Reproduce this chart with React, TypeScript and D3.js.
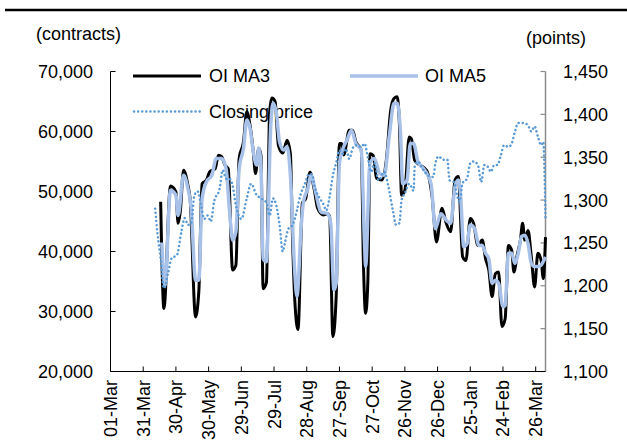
import React from 'react';
import * as d3 from 'd3';

// axis ticks
const xTickDates = ['2014-03-01', '2014-03-31', '2014-04-30', '2014-05-30', '2014-06-29', '2014-07-29', '2014-08-28',
    '2014-09-27', '2014-10-27', '2014-11-26', '2014-12-26', '2015-01-25', '2015-02-24', '2015-03-26'];
const leftTicks = [20000, 30000, 40000, 50000, 60000, 70000];
const rightTicks = [1100, 1150, 1200, 1250, 1300, 1350, 1400, 1450];

// OI MA3 (contracts)
const ma3Dates = ['2014-04-16', '2014-04-19', '2014-04-25', '2014-04-30', '2014-05-02', '2014-05-04', '2014-05-07',
    '2014-05-11', '2014-05-13', '2014-05-18', '2014-05-21', '2014-05-24', '2014-05-28', '2014-05-31', '2014-06-05',
    '2014-06-08', '2014-06-11', '2014-06-14', '2014-06-17', '2014-06-21', '2014-06-24', '2014-06-27', '2014-07-01',
    '2014-07-04', '2014-07-07', '2014-07-10', '2014-07-12', '2014-07-15', '2014-07-17', '2014-07-19', '2014-07-22',
    '2014-07-25', '2014-07-27', '2014-07-30', '2014-08-02', '2014-08-06', '2014-08-10', '2014-08-13', '2014-08-15',
    '2014-08-17', '2014-08-20', '2014-08-24', '2014-08-27', '2014-08-31', '2014-09-04', '2014-09-07', '2014-09-12',
    '2014-09-16', '2014-09-18', '2014-09-21', '2014-09-24', '2014-09-27', '2014-09-29', '2014-10-01', '2014-10-06',
    '2014-10-09', '2014-10-12', '2014-10-17', '2014-10-19', '2014-10-21', '2014-10-23', '2014-10-25', '2014-10-28',
    '2014-10-31', '2014-11-05', '2014-11-09', '2014-11-13', '2014-11-16', '2014-11-19', '2014-11-21', '2014-11-23',
    '2014-11-26', '2014-11-30', '2014-12-02', '2014-12-05', '2014-12-10', '2014-12-16', '2014-12-21', '2014-12-25',
    '2014-12-30', '2015-01-03', '2015-01-07', '2015-01-11', '2015-01-14', '2015-01-18', '2015-01-21', '2015-01-25',
    '2015-01-28', '2015-02-01', '2015-02-05', '2015-02-08', '2015-02-11', '2015-02-14', '2015-02-17', '2015-02-20',
    '2015-02-23', '2015-02-26', '2015-03-01', '2015-03-04', '2015-03-06', '2015-03-09', '2015-03-12', '2015-03-14',
    '2015-03-16', '2015-03-19', '2015-03-22', '2015-03-25', '2015-03-28', '2015-03-31', '2015-04-02', '2015-04-04'];
const ma3Values = [48300, 30500, 50900, 49950, 44700, 46600, 53550,
    51050, 48800, 29100, 33300, 51300, 51900, 53300, 53800,
    56050, 55800, 54400, 53800, 36900, 37700, 55500, 58300,
    63300, 61000, 56600, 53000, 57200, 56000, 33800, 34800,
    63300, 65600, 65000, 57700, 56400, 58550, 56300, 42000,
    32000, 27000, 48100, 48800, 53200, 50200, 47200, 46100,
    46300, 45800, 25800, 32500, 58000, 58000, 56100, 60200,
    60200, 58300, 56900, 38000, 29700, 34700, 56300, 56000,
    52200, 51900, 55200, 63500, 65500, 65800, 61300, 49400,
    50200, 59100, 58800, 55200, 54400, 53500, 49100, 41600,
    47200, 44700, 43300, 51900, 52500, 39100, 38500, 45500,
    44700, 41000, 41900, 38800, 36900, 32500, 36300, 36600,
    27500, 28800, 41000, 40200, 36600, 39400, 41900, 44700,
    41900, 43500, 39100, 34100, 39700, 38500, 35500, 42400];

// OI MA5 (contracts)
const ma5Dates = ['2014-04-17', '2014-04-20', '2014-04-25', '2014-04-30', '2014-05-02', '2014-05-07', '2014-05-11',
    '2014-05-14', '2014-05-18', '2014-05-21', '2014-05-24', '2014-05-28', '2014-06-02', '2014-06-06', '2014-06-11',
    '2014-06-15', '2014-06-18', '2014-06-21', '2014-06-24', '2014-06-27', '2014-07-01', '2014-07-04', '2014-07-07',
    '2014-07-10', '2014-07-13', '2014-07-15', '2014-07-17', '2014-07-19', '2014-07-22', '2014-07-26', '2014-07-28',
    '2014-07-31', '2014-08-03', '2014-08-07', '2014-08-10', '2014-08-13', '2014-08-17', '2014-08-19', '2014-08-23',
    '2014-08-25', '2014-08-29', '2014-09-01', '2014-09-05', '2014-09-10', '2014-09-16', '2014-09-19', '2014-09-22',
    '2014-09-24', '2014-09-27', '2014-10-01', '2014-10-04', '2014-10-08', '2014-10-12', '2014-10-17', '2014-10-20',
    '2014-10-21', '2014-10-25', '2014-10-29', '2014-11-03', '2014-11-07', '2014-11-12', '2014-11-16', '2014-11-19',
    '2014-11-22', '2014-11-24', '2014-11-28', '2014-12-01', '2014-12-04', '2014-12-08', '2014-12-14', '2014-12-20',
    '2014-12-24', '2014-12-29', '2015-01-03', '2015-01-07', '2015-01-11', '2015-01-14', '2015-01-16', '2015-01-19',
    '2015-01-22', '2015-01-25', '2015-01-29', '2015-02-02', '2015-02-05', '2015-02-08', '2015-02-11', '2015-02-14',
    '2015-02-17', '2015-02-20', '2015-02-24', '2015-02-26', '2015-03-01', '2015-03-04', '2015-03-07', '2015-03-10',
    '2015-03-13', '2015-03-16', '2015-03-19', '2015-03-22', '2015-03-25', '2015-03-29', '2015-04-01', '2015-04-04'];
const ma5Values = [41500, 34400, 50200, 49400, 46000, 52700, 50500,
    47200, 35200, 35200, 48800, 51600, 52700, 55500, 55500,
    53800, 47200, 41900, 43300, 53800, 57200, 61900, 60500,
    56600, 54400, 57200, 54400, 38800, 38300, 61000, 64700,
    63300, 58300, 56900, 57500, 52700, 36600, 32500, 44400,
    48300, 50500, 52700, 50000, 46600, 46300, 44700, 33600,
    34700, 54700, 57500, 58600, 60200, 58000, 56900, 41300,
    37500, 54700, 55500, 53000, 52700, 59700, 64700, 64700,
    59700, 51300, 51900, 58000, 58000, 55000, 53600, 51300,
    43800, 46300, 45200, 44700, 50800, 51900, 49700, 40800,
    41300, 44400, 43800, 41000, 41000, 39700, 38800, 34700,
    35200, 34700, 30800, 31000, 39700, 39700, 38000, 39700,
    42500, 42700, 41300, 38000, 37500, 37500, 38000, 39100];

// Closing price (points)
const priceDates = ['2014-04-11', '2014-04-13', '2014-04-16', '2014-04-19', '2014-04-23', '2014-04-26', '2014-05-01',
    '2014-05-05', '2014-05-08', '2014-05-11', '2014-05-14', '2014-05-17', '2014-05-20', '2014-05-23', '2014-05-26',
    '2014-05-29', '2014-06-01', '2014-06-04', '2014-06-09', '2014-06-12', '2014-06-15', '2014-06-18', '2014-06-21',
    '2014-06-24', '2014-06-29', '2014-07-04', '2014-07-08', '2014-07-13', '2014-07-17', '2014-07-22', '2014-07-25',
    '2014-07-28', '2014-07-31', '2014-08-03', '2014-08-06', '2014-08-08', '2014-08-11', '2014-08-15', '2014-08-19',
    '2014-08-22', '2014-08-26', '2014-08-30', '2014-09-02', '2014-09-04', '2014-09-08', '2014-09-12', '2014-09-15',
    '2014-09-18', '2014-09-21', '2014-09-24', '2014-09-27', '2014-09-30', '2014-10-03', '2014-10-06', '2014-10-09',
    '2014-10-12', '2014-10-17', '2014-10-20', '2014-10-23', '2014-10-26', '2014-10-29', '2014-11-02', '2014-11-07',
    '2014-11-11', '2014-11-15', '2014-11-18', '2014-11-21', '2014-11-23', '2014-11-26', '2014-11-30', '2014-12-04',
    '2014-12-05', '2014-12-08', '2014-12-13', '2014-12-17', '2014-12-22', '2014-12-24', '2014-12-27', '2014-12-31',
    '2015-01-04', '2015-01-06', '2015-01-10', '2015-01-13', '2015-01-15', '2015-01-18', '2015-01-22', '2015-01-25',
    '2015-01-28', '2015-02-01', '2015-02-04', '2015-02-07', '2015-02-10', '2015-02-13', '2015-02-16', '2015-02-19',
    '2015-02-22', '2015-02-25', '2015-03-01', '2015-03-04', '2015-03-07', '2015-03-10', '2015-03-15', '2015-03-19',
    '2015-03-22', '2015-03-25', '2015-03-28', '2015-03-31', '2015-04-02', '2015-04-03', '2015-04-04'];
const priceValues = [1290, 1262, 1232, 1197, 1216, 1232, 1236,
    1263, 1279, 1271, 1273, 1306, 1310, 1294, 1278,
    1282, 1275, 1298, 1313, 1335, 1325, 1325, 1317,
    1294, 1278, 1302, 1319, 1306, 1302, 1297, 1282,
    1302, 1294, 1272, 1240, 1250, 1266, 1271, 1288,
    1305, 1318, 1330, 1330, 1317, 1304, 1296, 1288,
    1304, 1329, 1343, 1358, 1354, 1360, 1348, 1360,
    1364, 1362, 1366, 1350, 1333, 1343, 1323, 1333,
    1315, 1288, 1271, 1273, 1300, 1308, 1319, 1311,
    1339, 1345, 1335, 1329, 1327, 1343, 1351, 1347,
    1347, 1323, 1321, 1305, 1298, 1320, 1325, 1343,
    1345, 1341, 1321, 1341, 1339, 1333, 1341, 1341,
    1352, 1364, 1362, 1366, 1380, 1390, 1390, 1387,
    1380, 1386, 1374, 1364, 1368, 1339, 1280];

const font = "Arial, 'Liberation Sans', sans-serif";

const App = () => {
    const parse = d3.timeParse('%Y-%m-%d');
    const fmt = d3.timeFormat('%d-%b');
    const left = 110.5, right = 545.5, top = 71.5, bottom = 371.5;

    const x = d3.scaleTime().domain([parse('2014-03-01'), parse('2015-04-04')]).range([left, right]);
    const yL = d3.scaleLinear().domain([20000, 70000]).range([bottom, top]);
    const yR = d3.scaleLinear().domain([1100, 1450]).range([bottom, top]);

    const series = (dates, values) => dates.map((d, i) => ({date: parse(d), v: values[i]}));
    const ma3 = series(ma3Dates, ma3Values);
    const ma5 = series(ma5Dates, ma5Values);
    const price = series(priceDates, priceValues);

    const lineL = d3.line().x(d => x(d.date)).y(d => yL(d.v)).curve(d3.curveMonotoneX);
    const lineR = d3.line().x(d => x(d.date)).y(d => yR(d.v)).curve(d3.curveMonotoneX);
    const nf = d3.format(',');

    return (
        <svg width={627} height={445} style={{position: 'absolute', left: 0, top: 0, background: '#fff'}}
             fontFamily={font} fontSize={18} fill="#000">
            <line x1={5} x2={627} y1={10} y2={10} stroke="#000" strokeWidth={2.5}/>
            <text x={36} y={40}>(contracts)</text>
            <text x={526} y={44}>(points)</text>

            {/* left axis */}
            <line x1={left} x2={left} y1={top} y2={bottom} stroke="#000" strokeWidth={1}/>
            {leftTicks.map(t => <g key={t}>
                <line x1={left} x2={left + 5} y1={yL(t)} y2={yL(t)} stroke="#000"/>
                <text x={93} y={yL(t) + 6.5} textAnchor="end">{nf(t)}</text>
            </g>)}

            {/* right axis */}
            <line x1={right} x2={right} y1={top} y2={bottom} stroke="#8c8c8c" strokeWidth={1.5}/>
            {rightTicks.map(t => <g key={t}>
                <line x1={right - 5} x2={right} y1={yR(t)} y2={yR(t)} stroke="#8c8c8c" strokeWidth={1.2}/>
                <text x={563} y={yR(t) + 6.5}>{nf(t)}</text>
            </g>)}

            {/* bottom axis */}
            <line x1={left} x2={right} y1={bottom} y2={bottom} stroke="#000"/>
            {xTickDates.map(d => {
                let tx = x(parse(d));
                return <g key={d}>
                    <line x1={tx} x2={tx} y1={bottom - 5} y2={bottom} stroke="#000"/>
                    <text transform={`translate(${tx + 6.5},380) rotate(-90)`} textAnchor="end">{fmt(parse(d))}</text>
                </g>;
            })}

            {/* legend */}
            <line x1={133} x2={201} y1={76} y2={76} stroke="#000" strokeWidth={3}/>
            <text x={209} y={82}>OI MA3</text>
            <line x1={350} x2={418} y1={76} y2={76} stroke="#a7c1e9" strokeWidth={3.5}/>
            <text x={425} y={82}>OI MA5</text>
            <line x1={134} x2={200} y1={111.5} y2={111.5} stroke="#5b9bd5" strokeWidth={2.5}
                  strokeDasharray="0.1 4" strokeLinecap="round"/>
            <text x={209} y={118}>Closing price</text>

            <path d={lineL(ma3)} fill="none" stroke="#000" strokeWidth={3} strokeLinejoin="round"/>
            <path d={lineL(ma5)} fill="none" stroke="#a7c1e9" strokeWidth={3.5} strokeLinejoin="round"/>
            <path d={lineR(price)} fill="none" stroke="#5b9bd5" strokeWidth={2.5}
                  strokeDasharray="0.1 4" strokeLinecap="round"/>
        </svg>
    );
};

export default App;
